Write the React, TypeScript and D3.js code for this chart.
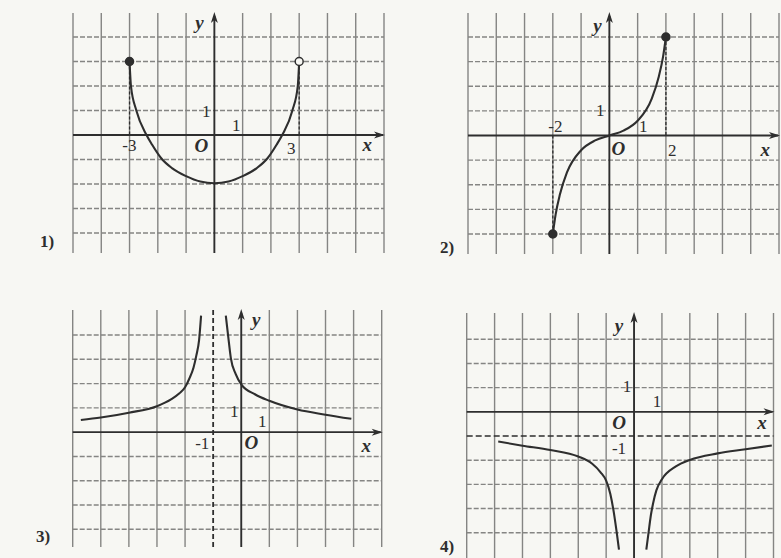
import React from 'react';
import * as d3 from 'd3';

// curve points (data units)
const p1X = [-3, -2.95, -2.76, -2.4, -2.2, -1.88, -1.5, -1, -0.5, 0, 0.5, 1, 1.5, 1.88, 2.2, 2.4, 2.76, 2.95, 3];
const p1Y = [3, 2, 1, 0, -0.4, -0.95, -1.35, -1.68, -1.9, -1.97, -1.9, -1.68, -1.35, -0.95, -0.4, 0, 1, 2, 3];

const p2X = [-2, -1.9, -1.75, -1.5, -1, -0.5, 0, 0.5, 1, 1.5, 1.75, 1.9, 2];
const p2Y = [-4, -3.2, -2.4, -1.5, -0.6, -0.2, 0, 0.2, 0.6, 1.5, 2.4, 3.2, 4];

const p3LeftX = [-5.71, -5, -4, -3, -2.5, -2.2, -2, -1.85, -1.7, -1.6, -1.5, -1.43];
const p3LeftY = [0.5, 0.6, 0.8, 1.07, 1.35, 1.6, 1.85, 2.2, 2.65, 3.15, 3.8, 4.8];
const p3RightX = [-0.55, -0.45, -0.37, -0.2, 0, 0.5, 1, 2, 3, 3.92];
const p3RightY = [4.8, 3.8, 3.05, 2.4, 1.97, 1.55, 1.29, 0.93, 0.72, 0.55];

const p4LeftX = [-4.87, -4, -3, -2, -1.5, -1.2, -1, -0.85, -0.72, -0.62, -0.54];
const p4LeftY = [-1.23, -1.4, -1.58, -1.85, -2.15, -2.5, -2.85, -3.4, -4.2, -5, -5.7];
const p4RightX = [0.44, 0.52, 0.6, 0.68, 0.8, 1, 1.5, 2, 3, 4, 4.94];
const p4RightY = [-5.7, -5, -4.3, -3.8, -3.25, -2.79, -2.26, -1.99, -1.72, -1.55, -1.39];

// tick labels per panel
const p1Labels = ['y', '1', '1', '-3', 'O', '3', 'x'];
const p2Labels = ['y', '1', '-2', '1', 'O', '2', 'x'];
const p3Labels = ['y', '1', '1', '-1', 'O', 'x'];
const p4Labels = ['y', '1', '1', 'O', '-1', 'x'];
const panelNames = ['1)', '2)', '3)', '4)'];

const BG = '#f7f7f3';
const GRID = '#858583';
const INK = '#2e2e2e';
const FONT = '"Liberation Serif", "DejaVu Serif", serif';

type Pt = [number, number];
const zip = (xs: number[], ys: number[]): Pt[] => xs.map((x, i) => [x, ys[i]]);

interface PanelProps {
  xDom: [number, number];
  xRange: [number, number];
  yDom: [number, number];
  yRange: [number, number];
  vTop: number;
  vBottom: number;
  curves: Pt[][];
  labels: string[];
  labelPos: [number, number][];
  dashedV?: number[][]; // [x, y0, y1]
  dashedH?: number;
  dashedVFull?: number;
  dots?: { x: number; y: number; open?: boolean }[];
  name: string;
  namePos: [number, number];
}

const Panel = (p: PanelProps) => {
  const x = d3.scaleLinear().domain(p.xDom).range(p.xRange);
  const y = d3.scaleLinear().domain(p.yDom).range(p.yRange);
  const xTicks = d3.range(p.xDom[0], p.xDom[1] + 1);
  const yTicks = d3.range(p.yDom[0], p.yDom[1] + 1);
  const line = d3.line<Pt>().x(d => x(d[0])).y(d => y(d[1])).curve(d3.curveMonotoneX);
  const ox = x(0);
  const oy = y(0);
  const left = p.xRange[0];
  const right = p.xRange[1];

  return (
    <g>
      {/* grid */}
      {xTicks.filter(t => t !== 0 && t !== p.dashedVFull).map(t => (
        <line key={'v' + t} x1={x(t)} x2={x(t)} y1={p.vTop} y2={p.vBottom}
          stroke={GRID} strokeWidth={1.4} />
      ))}
      {yTicks.filter(t => t !== 0 && t !== p.dashedH).map(t => (
        <line key={'h' + t} x1={left} x2={right} y1={y(t)} y2={y(t)}
          stroke={GRID} strokeWidth={1.4} strokeDasharray="5 2" />
      ))}

      {/* dashed guides */}
      {(p.dashedV || []).map((d, i) => (
        <line key={'dv' + i} x1={x(d[0])} x2={x(d[0])} y1={y(d[1])} y2={y(d[2])}
          stroke={INK} strokeWidth={1.3} strokeDasharray="3 2" />
      ))}
      {p.dashedVFull !== undefined && (
        <line x1={x(p.dashedVFull)} x2={x(p.dashedVFull)} y1={p.vTop} y2={p.vBottom}
          stroke={INK} strokeWidth={1.8} strokeDasharray="5 3" />
      )}
      {p.dashedH !== undefined && (
        <line x1={left} x2={right} y1={y(p.dashedH)} y2={y(p.dashedH)}
          stroke={INK} strokeWidth={1.6} strokeDasharray="6 3" />
      )}

      {/* axes */}
      <line x1={left} x2={right - 1} y1={oy} y2={oy} stroke={INK} strokeWidth={1.9} />
      <path d={`M${right + 1},${oy} L${right - 10},${oy - 3.5} L${right - 7},${oy} L${right - 10},${oy + 3.5} Z`} fill={INK} />
      <line x1={ox} x2={ox} y1={p.vBottom} y2={p.vTop + 3} stroke={INK} strokeWidth={1.9} />
      <path d={`M${ox},${p.vTop - 1} L${ox - 3.5},${p.vTop + 10} L${ox},${p.vTop + 7} L${ox + 3.5},${p.vTop + 10} Z`} fill={INK} />

      {/* curves */}
      {p.curves.map((c, i) => (
        <path key={'c' + i} d={line(c) || ''} fill="none" stroke={INK} strokeWidth={2.1} />
      ))}
      {(p.dots || []).map((d, i) => (
        <circle key={'d' + i} cx={x(d.x)} cy={y(d.y)} r={4}
          fill={d.open ? BG : INK} stroke={INK} strokeWidth={1.5} />
      ))}

      {/* labels */}
      {p.labels.map((t, i) => {
        const italic = t === 'x' || t === 'y' || t === 'O';
        return (
          <text key={'l' + i} x={ox + p.labelPos[i][0]} y={oy + p.labelPos[i][1]}
            textAnchor="middle" fontFamily={FONT} fill={INK}
            fontSize={italic ? 19 : 17} fontStyle={italic ? 'italic' : 'normal'}
            fontWeight={italic ? 'bold' : 'normal'}>
            {t}
          </text>
        );
      })}
      <text x={p.namePos[0]} y={p.namePos[1]} textAnchor="middle" fontFamily={FONT}
        fontSize={17} fontWeight="bold" fill={INK}>{p.name}</text>
    </g>
  );
};

const App = () => (
  <svg width={781} height={558} style={{ position: 'absolute', left: 0, top: 0, display: 'block' }}>
    <rect width={781} height={558} fill={BG} />
    <Panel
      xDom={[-5, 6]} xRange={[73, 384]} yDom={[-4, 4]} yRange={[233, 37]}
      vTop={13} vBottom={253}
      curves={[zip(p1X, p1Y)]}
      labels={p1Labels}
      labelPos={[[-15, -106], [-8, -18], [22, -4], [-85, 16], [-13, 17], [77, 19], [153, 16]]}
      dashedV={[[-3, 3, 0], [3, 3, 0]]}
      dots={[{ x: -3, y: 3 }, { x: 3, y: 3, open: true }]}
      name={panelNames[0]} namePos={[47, 247]}
    />
    <Panel
      xDom={[-5, 6]} xRange={[468, 779]} yDom={[-4, 4]} yRange={[234, 37]}
      vTop={13} vBottom={254}
      curves={[zip(p2X, p2Y)]}
      labels={p2Labels}
      labelPos={[[-12, -104], [-9, -20], [-54, -4], [34, -4], [9, 19], [63, 20], [156, 20]]}
      dashedV={[[2, 4, 0], [-2, 0, -4]]}
      dots={[{ x: -2, y: -4 }, { x: 2, y: 4 }]}
      name={panelNames[1]} namePos={[447, 253]}
    />
    <Panel
      xDom={[-6, 5]} xRange={[72.7, 381.7]} yDom={[-4, 4]} yRange={[529.3, 335]}
      vTop={310} vBottom={547}
      curves={[zip(p3LeftX, p3LeftY), zip(p3RightX, p3RightY)]}
      labels={p3Labels}
      labelPos={[[15, -106], [-7, -15], [21, -5], [-39, 17], [10, 17], [125, 20]]}
      dashedVFull={-1}
      name={panelNames[2]} namePos={[43, 542]}
    />
    <Panel
      xDom={[-6, 5]} xRange={[466.7, 773.5]} yDom={[-5, 3]} yRange={[532.7, 339.3]}
      vTop={313} vBottom={560}
      curves={[zip(p4LeftX, p4LeftY), zip(p4RightX, p4RightY)]}
      labels={p4Labels}
      labelPos={[[-15, -80], [-7, -20], [23, -5], [-15, 17], [-15, 42], [128, 17]]}
      dashedH={-1}
      name={panelNames[3]} namePos={[447, 552]}
    />
  </svg>
);

export default App;
